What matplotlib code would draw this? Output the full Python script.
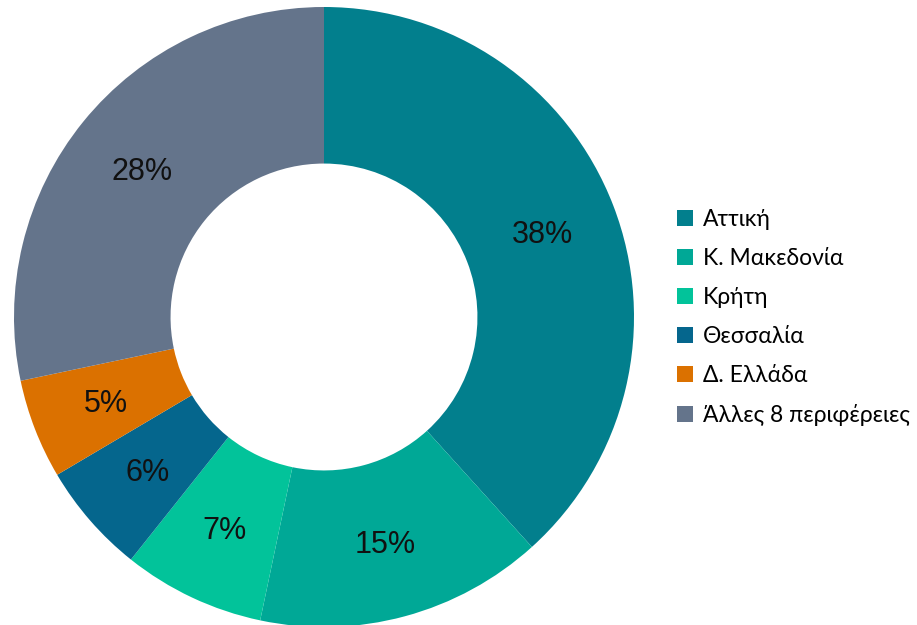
import matplotlib.pyplot as plt
from matplotlib.patches import Patch
import numpy as np

regions = ["Αττική", "Κ. Μακεδονία", "Κρήτη", "Θεσσαλία", "Δ. Ελλάδα", "Άλλες 8 περιφέρειες"]
shares = [38.3, 15.0, 7.4, 5.8, 5.2, 28.3]
labels = ["38%", "15%", "7%", "6%", "5%", "28%"]
colors = ["#027f8d", "#00a896", "#02c39a", "#05668d", "#db7100", "#64748b"]

fig = plt.figure(figsize=(9.17, 6.25), dpi=100)
ax = fig.add_axes([14/917, -2/625, 620/917, 620/625])

wedges, _ = ax.pie(shares, colors=colors, startangle=90, counterclock=False,
                   wedgeprops=dict(width=0.505, linewidth=0))
ax.set_xlim(-1, 1)
ax.set_ylim(-1, 1)
ax.set_aspect("equal")

cum = np.cumsum([0] + shares[:-1])
tot = sum(shares)
for s, c, lab in zip(shares, cum, labels):
    ang = np.deg2rad(90 - (c + s / 2) / tot * 360)
    ax.text(0.755 * np.cos(ang), 0.755 * np.sin(ang) - 0.008, lab, ha="center", va="center",
            fontsize=22, family="Liberation Sans", color="#111111")

handles = [Patch(facecolor=c, edgecolor="none") for c in colors]
fig.legend(handles, regions, loc="center left", bbox_to_anchor=(656/917, 0.492),
           frameon=False, prop={"family": "Lato", "size": 16.5},
           handlelength=0.7, handleheight=0.7, handletextpad=0.45, labelspacing=0.78)

fig.savefig("out.png", dpi=100)
